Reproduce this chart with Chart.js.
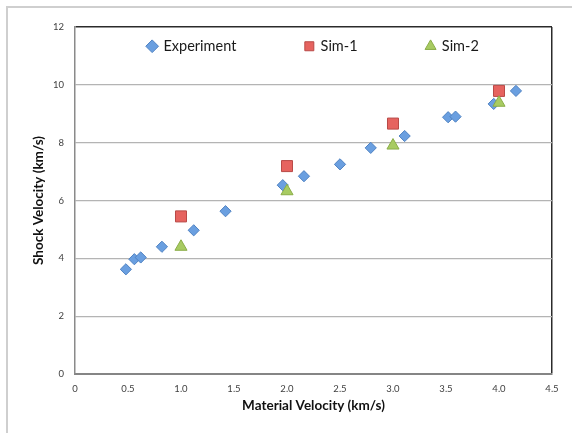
<!DOCTYPE html>
<html>
<head>
<meta charset="utf-8">
<script src="https://cdn.jsdelivr.net/npm/chart.js@4"></script>
<style>
  html, body { margin: 0; padding: 0; background: #fff; }
  #wrap { position: relative; width: 572px; height: 433px; overflow: hidden; }
  #frame { position: absolute; left: 6px; top: 6px; width: 600px; height: 500px; border: 2px solid #cfcfcf; box-sizing: border-box; }
  canvas { position: absolute; left: 0; top: 0; }
</style>
</head>
<body>
<div id="wrap">
  <div id="frame"></div>
  <canvas id="c" width="572" height="433"></canvas>
</div>
<script>
const seriesNames = ['Experiment', 'Sim-1', 'Sim-2'];
const expX = [0.48, 0.56, 0.62, 0.82, 1.12, 1.42, 1.96, 2.16, 2.50, 2.79, 3.11, 3.52, 3.59, 3.95, 4.16];
const expY = [3.62, 3.97, 4.03, 4.40, 4.97, 5.63, 6.53, 6.84, 7.25, 7.82, 8.23, 8.88, 8.90, 9.34, 9.79];
const sim1X = [1, 2, 3, 4];
const sim1Y = [5.45, 7.19, 8.66, 9.79];
const sim2X = [1, 2, 3, 4];
const sim2Y = [4.40, 6.32, 7.90, 9.38];
const xTitle = 'Material Velocity (km/s)';
const yTitle = 'Shock Velocity (km/s)';

const pts = (xs, ys) => xs.map((x, i) => ({ x: x, y: ys[i] }));
const FONT = 'Lato, "Open Sans", sans-serif';
const LEGEND_PAD = 69;

// Legend sits inside the plot area, near its top edge
const legendShift = {
  id: 'legendShift',
  afterLayout(chart) {
    const lg = chart.legend;
    if (lg) {
      const ca = chart.chartArea;
      lg.left = ca.left;
      lg.right = ca.right;
      lg.top = ca.top + 12 - LEGEND_PAD;
      lg.bottom = ca.top + 45;
      lg.width = lg.right - lg.left;
      lg.height = lg.bottom - lg.top;
    }
  }
};

new Chart(document.getElementById('c'), {
  type: 'scatter',
  data: {
    datasets: [
      { label: seriesNames[0], data: pts(expX, expY), pointStyle: 'rectRot', pointRadius: 5.6,
        backgroundColor: '#6a9fe0', borderColor: '#4f82c2', borderWidth: 1, order: 2 },
      { label: seriesNames[1], data: pts(sim1X, sim1Y), pointStyle: 'rect', pointRadius: 7.8,
        backgroundColor: '#e6635f', borderColor: '#b94a47', borderWidth: 1, order: 1 },
      { label: seriesNames[2], data: pts(sim2X, sim2Y), pointStyle: 'triangle', pointRadius: 7,
        backgroundColor: '#a8cb62', borderColor: '#8aad47', borderWidth: 1, order: 0 }
    ]
  },
  options: {
    responsive: false,
    animation: false,
    layout: { padding: { left: 31, right: 20, top: 26, bottom: 19 } },
    plugins: {
      tooltip: { enabled: false },
      legend: {
        position: 'top',
        align: 'center',
        maxHeight: 1,
        labels: {
          usePointStyle: true,
          boxWidth: 8,
          boxHeight: 9,
          padding: LEGEND_PAD,
          color: '#1a1a1a',
          font: { family: FONT, size: 14.5 },
          sort: (a, b) => a.datasetIndex - b.datasetIndex
        }
      }
    },
    scales: {
      x: {
        type: 'linear',
        min: 0, max: 4.5,
        afterFit(s) { s.height = 40; },
        ticks: { stepSize: 0.5, padding: 9, color: '#404040', font: { family: FONT, size: 9.5 } },
        grid: {
          drawTicks: false,
          lineWidth: 1.5,
          color: (ctx) => (ctx.tick && ctx.tick.value === 4.5) ? '#2b2b2b' : 'rgba(0,0,0,0)'
        },
        border: { color: '#858585', width: 2 },
        title: { display: true, text: xTitle, color: '#111', padding: 0,
                 font: { family: FONT, size: 13.5, weight: 'bold' } }
      },
      y: {
        type: 'linear',
        min: 0, max: 12,
        afterFit(s) { s.width = 44; },
        ticks: { stepSize: 2, padding: 11, color: '#404040', font: { family: FONT, size: 9.5 } },
        grid: {
          drawTicks: false,
          lineWidth: (ctx) => (ctx.tick && ctx.tick.value === 12) ? 1.5 : 1.2,
          color: (ctx) => (ctx.tick && ctx.tick.value === 12) ? '#2b2b2b' : '#b4b4b4'
        },
        border: { color: '#8a8a8a', width: 1.5 },
        title: { display: true, text: yTitle, color: '#111', padding: 0,
                 font: { family: FONT, size: 13.5, weight: 'bold' } }
      }
    }
  },
  plugins: [legendShift]
});
</script>
</body>
</html>
